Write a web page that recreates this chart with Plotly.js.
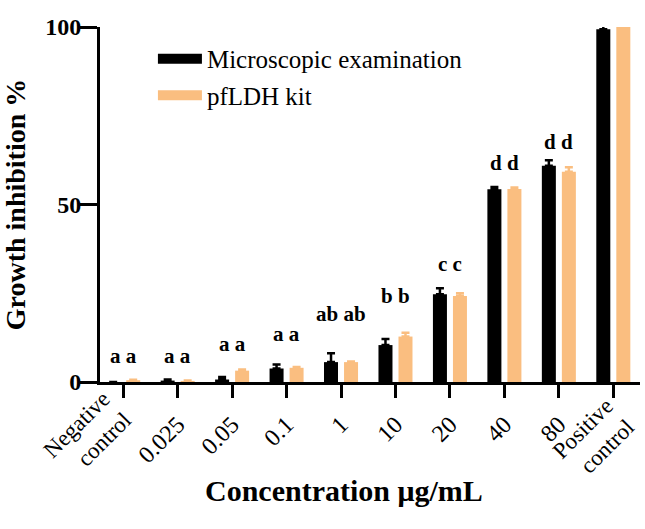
<!DOCTYPE html>
<html>
<head>
<meta charset="utf-8">
<script src="https://cdn.plot.ly/plotly-3.0.1.min.js"></script>
<style>html,body{margin:0;padding:0;background:#fff;}#chart{width:645px;height:529px;}</style>
</head>
<body>
<div id="chart"></div>
<script>
const categories = ['Negative<br>control', '0.025', '0.05', '0.1', '1', '10', '20', '40', '80', 'Positive<br>control'];
const microValues = [0.0, 0.4, 0.7, 3.8, 5.6, 10.4, 24.7, 54.3, 60.9, 99.4];
const microErrors = [0.0, 0.3, 0.7, 1.1, 2.5, 1.7, 1.7, 0.6, 1.6, 1.2];
const kitValues = [0.5, 0.3, 3.2, 4.0, 5.6, 12.8, 24.2, 54.4, 59.2, 100.8];
const kitErrors = [0.1, 0.1, 0.3, 0.2, 0.2, 1.1, 0.8, 0.4, 1.3, 0.0];
const groupLetters = ['a a', 'a a', 'a a', 'a a', 'ab ab', 'b b', 'c c', 'd d', 'd d', 'e e'];
const letterHeights = [7.3, 7.3, 10.8, 13.6, 19.1, 24.3, 33.3, 61.7, 67.7, 105.3];
const seriesNames = ['Microscopic examination', 'pfLDH kit'];
const yTicks = [0, 50, 100];

const BLACK = '#000000';
const ORANGE = '#FABE80';
const FONT = 'Liberation Serif';
const positions = categories.map((c, i) => i);
const isMulti = categories.map(c => c.includes('<br>'));
const zeros = n => n.map(() => 0);
const XRANGE = [-0.426, 9.49];
const firstIdx = 0, lastIdx = categories.length - 1;

const traces = [
  {
    type: 'bar', x: positions, y: microValues, name: seriesNames[0],
    legendgroup: 'micro', showlegend: false, cliponaxis: false,
    marker: {color: BLACK},
    error_y: {type: 'data', symmetric: false, array: microErrors, arrayminus: zeros(microErrors),
              color: BLACK, thickness: 2.5, width: 4}
  },
  {
    type: 'bar', x: positions, y: kitValues, name: seriesNames[1],
    legendgroup: 'kit', showlegend: false, cliponaxis: false,
    marker: {color: ORANGE},
    error_y: {type: 'data', symmetric: false, array: kitErrors, arrayminus: zeros(kitErrors),
              color: ORANGE, thickness: 2.5, width: 4}
  },
  {type: 'scatter', mode: 'lines', x: [null], y: [null], xaxis: 'x2', name: seriesNames[0], legendgroup: 'micro',
   line: {color: BLACK, width: 12}, hoverinfo: 'skip'},
  {type: 'scatter', mode: 'lines', x: [null], y: [null], xaxis: 'x3', name: seriesNames[1], legendgroup: 'kit',
   line: {color: ORANGE, width: 12}, hoverinfo: 'skip'}
];

const annotations = positions.map(i => ({
  x: i, y: letterHeights[i], xref: 'x', yref: 'y', text: groupLetters[i],
  showarrow: false, yanchor: 'middle', xanchor: 'center',
  font: {family: FONT, size: 21, color: '#000', weight: 'bold'}
}));
annotations.push({
  x: 0.452, y: -0.305, xref: 'paper', yref: 'paper', xanchor: 'center', yanchor: 'middle',
  showarrow: false, text: 'Concentration μg/mL',
  font: {family: FONT, size: 30, color: '#000', weight: 'bold'}
});

const labelAxis = (idx, shift, standoff) => ({
  type: 'linear', range: XRANGE, overlaying: 'x', anchor: 'y', side: 'bottom',
  showgrid: false, zeroline: false, showline: false, automargin: false,
  tickmode: 'array', tickvals: [positions[idx]], ticktext: [categories[idx]],
  ticks: '', tickangle: -45, ticklabelshift: shift, ticklabelstandoff: standoff,
  tickfont: {family: FONT, size: 23, color: '#000'}
});

const layout = {
  width: 645, height: 529,
  margin: {l: 100, r: 5, t: 27, b: 147},
  paper_bgcolor: '#fff', plot_bgcolor: '#fff',
  font: {family: FONT, color: '#000'},
  barmode: 'group', bargap: 0.265, bargroupgap: 0.3,
  showlegend: true,
  legend: {x: 0.098, xanchor: 'left', y: 0.975, yanchor: 'top', bgcolor: 'rgba(0,0,0,0)',
           font: {family: FONT, size: 25, color: '#000'}, itemwidth: 44, tracegroupgap: 1},
  xaxis: {
    type: 'linear', range: XRANGE, showgrid: false, zeroline: false, automargin: false,
    showline: true, linecolor: '#000', linewidth: 3,
    tickmode: 'array', tickvals: positions, ticktext: categories.map((c, i) => isMulti[i] ? '' : c),
    ticks: 'outside', ticklen: 13, tickwidth: 3, tickcolor: '#000',
    tickangle: -45, ticklabelstandoff: 3, tickfont: {family: FONT, size: 24, color: '#000'}
  },
  xaxis2: labelAxis(firstIdx, -20, -2),
  xaxis3: labelAxis(lastIdx, -7, 5),
  yaxis: {
    range: [0, 100], tickmode: 'array', tickvals: yTicks, showgrid: false, zeroline: false,
    showline: true, linecolor: '#000', linewidth: 3, automargin: true,
    ticks: 'outside', ticklen: 17, tickwidth: 3, tickcolor: '#000', ticklabelstandoff: -6,
    tickfont: {family: FONT, size: 24, color: '#000', weight: 'bold'},
    title: {text: 'Growth inhibition %', standoff: 14,
            font: {family: FONT, size: 28, color: '#000', weight: 'bold'}}
  },
  annotations: annotations
};

Plotly.newPlot('chart', traces, layout, {displayModeBar: false, staticPlot: true});
</script>
</body>
</html>
